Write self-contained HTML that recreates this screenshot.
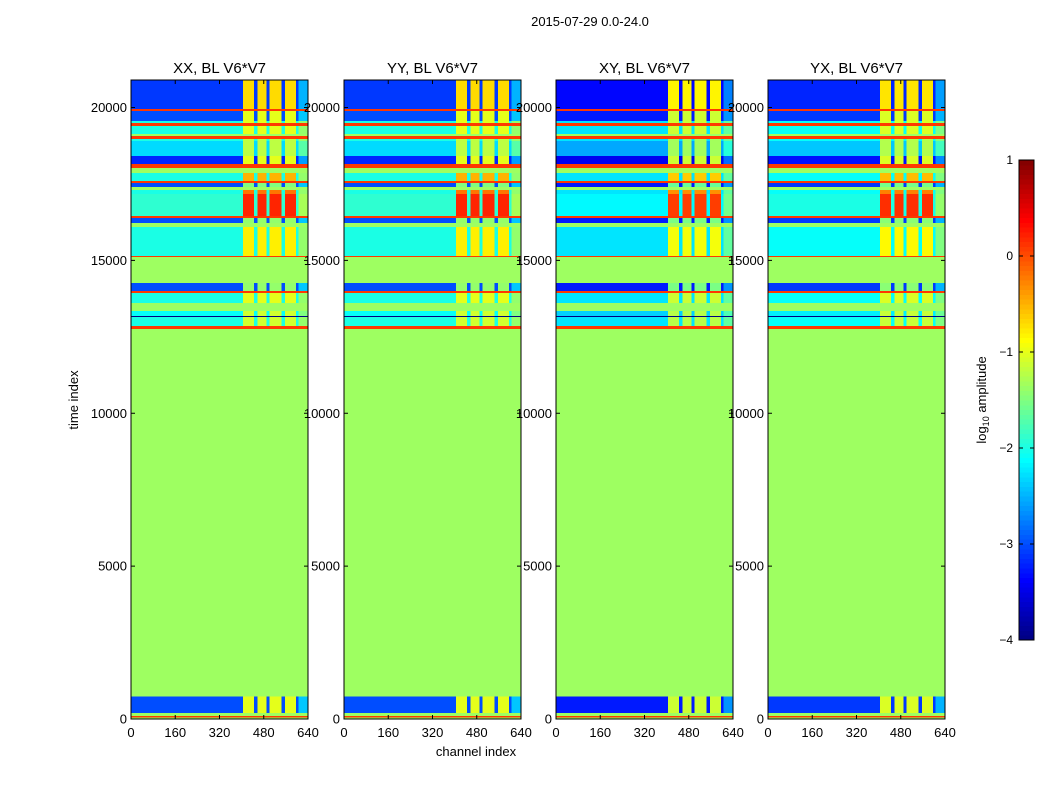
<!DOCTYPE html>
<html><head><meta charset="utf-8">
<style>
body{margin:0;background:#fff;}
svg{font-family:"Liberation Sans",sans-serif;}
text{fill:#000;}
</style></head>
<body>
<svg id="fig" width="1050" height="800" viewBox="0 0 1050 800" xmlns="http://www.w3.org/2000/svg">
<rect width="1050" height="800" fill="#fff"/>
<text x="590" y="26" font-size="13" text-anchor="middle">2015-07-29 0.0-24.0</text>
<text transform="translate(78,400) rotate(-90)" font-size="13" text-anchor="middle">time index</text>
<text x="476" y="756" font-size="13" text-anchor="middle">channel index</text>
<g id="panels"></g>
<g id="cbar"></g>
</svg>
<script>
const panelTitles = ["XX, BL V6*V7","YY, BL V6*V7","XY, BL V6*V7","YX, BL V6*V7"];
const panelOffsets = [0, 0, -0.25, -0.1];
const xTicks = [0,160,320,480,640];
const yTicks = [0,5000,10000,15000,20000];
const cbarTicks = [1,0,-1,-2,-3,-4];
const bandStarts = [0,60,110,200,750,12766,12864,13159,13191,13355,13617,13944,14010,14272,15123,15155,16105,16236,16399,16465,17185,17316,17414,17545,17610,17872,18036,18167,18429,18920,18985,19083,19149,19411,19509,19574,19902,19967];
const bandEnds   = [60,110,200,750,12766,12864,13159,13191,13355,13617,13944,14010,14272,15123,15155,16105,16236,16399,16465,17185,17316,17414,17545,17610,17872,18036,18167,18429,18920,18985,19083,19149,19411,19509,19574,19902,19967,20900];
const bandKinds  = ['f','f','f','n','f','f','n','f','n','f','n','f','n','f','f','n','f','n','f','n','n','f','n','f','n','f','f','n','n','n','f','f','n','f','n','n','f','n'];
const bandQuiet  = [-1.35,0.1,-1.35,-3.0,-1.35,0.1,-2.0,-4,-2.1,-1.35,-2.0,0.1,-3.0,-1.35,0.1,-2.0,-1.35,-3.0,0.1,-1.9,-2.0,-1.35,-3.0,0.1,-2.0,-1.35,0.1,-3.2,-2.3,-2.0,0.1,-1.35,-2.0,0.1,-2.0,-3.0,0.1,-3.1];
const bandHot    = [-1.35,0.1,-1.35,-1.0,-1.35,0.1,-1.1,-4,-1.1,-1.35,-1.0,0.1,-1.4,-1.35,0.1,-0.8,-1.35,-1.4,0.1,0.2,-0.2,-1.35,-1.5,0.1,-0.5,-1.35,0.1,-1.0,-1.2,-1.2,0.1,-1.35,-1.0,0.1,-1.0,-1.0,0.1,-0.7];
const chanStarts = [0,405,445,458,490,500,545,556,596,606,640];
const chanEnds   = [405,445,458,490,500,545,556,596,606,640];
const chanTypes  = ['q','h','s','h','s','h','s','h','s','e'];

function jet(v){
  let x=(v+4)/5; x=Math.max(0,Math.min(1,x));
  const f=(a)=>Math.max(0,Math.min(1,a));
  const r=f(Math.min(4*x-1.5,-4*x+4.5));
  const g=f(Math.min(4*x-0.5,-4*x+3.5));
  const b=f(Math.min(4*x+0.5,-4*x+2.5));
  return `rgb(${Math.round(r*255)},${Math.round(g*255)},${Math.round(b*255)})`;
}
const NS="http://www.w3.org/2000/svg";
function el(tag,attrs,parent){const e=document.createElementNS(NS,tag);for(const k in attrs)e.setAttribute(k,attrs[k]);parent.appendChild(e);return e;}
const panelX=[131,344,556,768], PW=177, TOP=80, BOT=719, YMAX=20900, XMAX=640;
const root=document.getElementById('panels');
panelTitles.forEach((title,p)=>{
  const x0=panelX[p];
  const xs=c=>x0+c/XMAX*PW;
  const ys=t=>BOT-t/YMAX*(BOT-TOP);
  const g=el('g',{},root);
  
  
  const hm=el('g',{'shape-rendering':'crispEdges'},g);
  
  
  for(let b=0;b<bandStarts.length;b++){
    const y1=ys(bandEnds[b]), y2=ys(bandStarts[b]);
    if(bandKinds[b]==='f'){
      const r=el('rect',{x:xs(0),y:y1,width:PW,height:y2-y1+0.3,fill:jet(bandQuiet[b])},hm);
      
      
      continue;
    }
    const q=bandQuiet[b]+panelOffsets[p];
    for(let c=0;c<chanEnds.length;c++){
      let v;
      const t=chanTypes[c];
      if(t==='q'||t==='s') v=q;
      else if(t==='h') v=bandHot[b]+panelOffsets[p]*0.5;
      else v=q+0.6;
      const r=el('rect',{x:xs(chanStarts[c]),y:y1,width:xs(chanEnds[c])-xs(chanStarts[c])+0.3,height:y2-y1+0.3,fill:jet(v)},hm);
      
      
    }
  }
  const fr=el('rect',{x:x0,y:TOP,width:PW,height:BOT-TOP,fill:'none',stroke:'#000','stroke-width':1},g);
  
  
  const tt=el('text',{x:x0+PW/2,y:73,'font-size':15,'text-anchor':'middle'},g);
  tt.textContent=title;
  
  
  xTicks.forEach(v=>{
    const x=xs(v);
    el('line',{x1:x,x2:x,y1:BOT,y2:BOT-4,stroke:'#000'},g);
    el('line',{x1:x,x2:x,y1:TOP,y2:TOP+4,stroke:'#000'},g);
    const t=el('text',{x:x,y:737,'font-size':13,'text-anchor':'middle'},g);
    t.textContent=v;
    
    
  });
  yTicks.forEach(v=>{
    const y=ys(v);
    el('line',{x1:x0,x2:x0+4,y1:y,y2:y,stroke:'#000'},g);
    el('line',{x1:x0+PW,x2:x0+PW-4,y1:y,y2:y,stroke:'#000'},g);
    const t=el('text',{x:x0-4,y:y+4.5,'font-size':13,'text-anchor':'end'},g);
    t.textContent=v;
    
    
  });
});
const cb=document.getElementById('cbar');
const CX=1019,CW=15,CT=160,CB=640;
const cy=v=>CB-(v+4)/5*(CB-CT);
const steps=[];for(let i=0;i<100;i++)steps.push(i);
steps.forEach(i=>{
  const v0=-4+i*0.05;
  el('rect',{x:CX,y:cy(v0+0.05),width:CW,height:(CB-CT)/100+0.5,fill:jet(v0+0.025),'shape-rendering':'crispEdges'},cb);
});
el('rect',{x:CX,y:CT,width:CW,height:CB-CT,fill:'none',stroke:'#000'},cb);
cbarTicks.forEach(v=>{
  const y=cy(v);
  el('line',{x1:CX,x2:CX+4,y1:y,y2:y,stroke:'#000'},cb);
  el('line',{x1:CX+CW,x2:CX+CW-4,y1:y,y2:y,stroke:'#000'},cb);
  const t=el('text',{x:1013,y:y+4,'font-size':12,'text-anchor':'end'},cb);
  t.textContent=v<0?'\u2212'+(-v):String(v);
  
  
});
const lab=el('text',{transform:'translate(986,400) rotate(-90)','font-size':13,'text-anchor':'middle'},cb);
lab.innerHTML='log<tspan font-size="9" dy="3">10</tspan><tspan dy="-3"> amplitude</tspan>';


</script>
</body></html>
